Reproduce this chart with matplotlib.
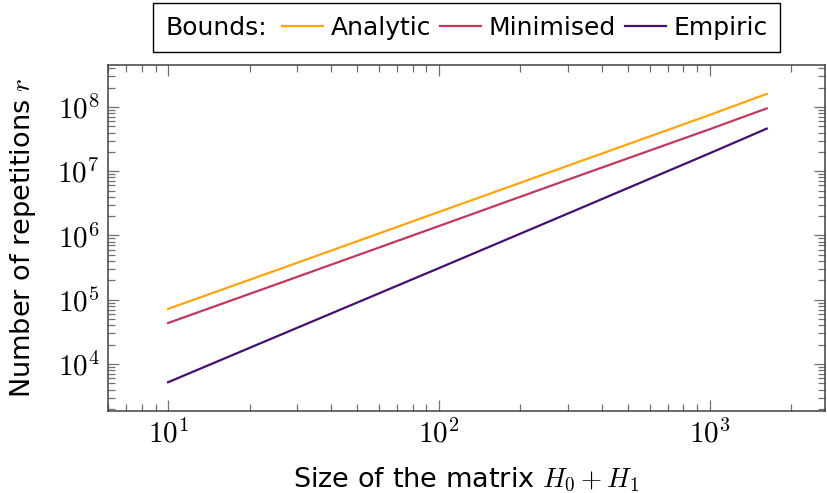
import math
import matplotlib
matplotlib.use("Agg")
import matplotlib.pyplot as plt
from matplotlib.ticker import LogLocator, FuncFormatter, NullFormatter
from matplotlib.offsetbox import HPacker

plt.rcParams['font.family'] = ['DejaVu Sans']
plt.rcParams['mathtext.fontset'] = 'cm'

# matrix size H0 + H1
sizes = [10, 30, 100, 300, 1000, 1625]
analytic = [7.2e4, 3.76e5, 2.32e6, 1.22e7, 7.5e7, 1.6e8]
minimised = [4.34e4, 2.27e5, 1.40e6, 7.4e6, 4.5e7, 9.5e7]
empiric = [5.2e3, 3.66e4, 3.1e5, 2.2e6, 1.9e7, 4.6e7]

series = [("Analytic", analytic, "#ffa50a"),
          ("Minimised", minimised, "#c03a5c"),
          ("Empiric", empiric, "#44106f")]

fig = plt.figure(figsize=(8.27, 4.93), dpi=100)
ax = fig.add_axes([0.1306, 0.1663, 0.867, 0.7019])

handles = []
for name, vals, col in series:
    h, = ax.plot(sizes, vals, color=col, lw=1.6, label=name)
    handles.append(h)

ax.set_xscale("log")
ax.set_yscale("log")
ax.set_xlim(6.0, 2667)
ax.set_ylim(1854, 4.5e8)

fmt = FuncFormatter(lambda v, p: r"$10^{%d}$" % round(math.log10(v)))
for a in (ax.xaxis, ax.yaxis):
    a.set_major_locator(LogLocator(base=10, numticks=20))
    a.set_minor_locator(LogLocator(base=10, subs=range(2, 10), numticks=20))
    a.set_major_formatter(fmt)
    a.set_minor_formatter(NullFormatter())

ax.tick_params(which="both", direction="in", top=True, right=True,
               color="#707070", width=0.9, labelsize=21)
ax.tick_params(which="major", length=8, pad=6)
ax.tick_params(which="minor", length=5)
for s in ax.spines.values():
    s.set_color("#404040")
    s.set_linewidth(1.1)

ax.set_xlabel(r"Size of the matrix $H_0 + H_1$", fontsize=19.5, labelpad=12)
ax.set_ylabel(r"Number of repetitions $r$", fontsize=19.5, labelpad=14)

leg = ax.legend(handles=handles, title="Bounds:", ncol=3, loc="lower center",
                bbox_to_anchor=(0.5, 1.0), borderaxespad=0.5, fancybox=False,
                edgecolor="black", framealpha=1, fontsize=18, title_fontsize=18,
                handlelength=1.65, handletextpad=0.3, columnspacing=0.35,
                borderpad=0.5)
leg.get_frame().set_linewidth(1.0)
# put the title on the same row as the entries
fs = leg._fontsize
row = HPacker(pad=leg.borderpad * fs, sep=0.6 * fs, align="center",
              children=[leg._legend_title_box, leg._legend_handle_box])
row.set_figure(fig)
row.axes = ax
leg._legend_box = row
row.set_offset(leg._findoffset)

fig.savefig("out.png", dpi=100)
